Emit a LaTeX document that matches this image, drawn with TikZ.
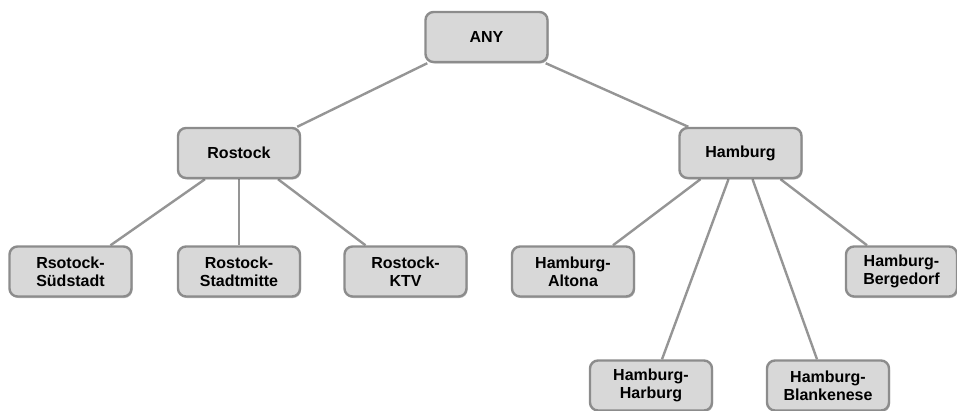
\documentclass[tikz,border=0pt]{standalone}
\usepackage{fontspec}
\setmainfont{Liberation Sans}
\usetikzlibrary{calc,shadows,backgrounds}
\definecolor{boxfill}{HTML}{D8D8D8}
\definecolor{boxline}{HTML}{8C8C8C}
\definecolor{edgeline}{HTML}{959595}
\tikzset{
  place/.style={draw=boxline, fill=boxfill, line width=2.4pt, rounded corners=8pt,
    minimum width=122pt, minimum height=50pt, inner sep=0pt, align=center,
    font=\fontsize{16}{18}\selectfont\bfseries,
    drop shadow={shadow xshift=1pt, shadow yshift=-1.5pt, opacity=0.25, fill=black}},
  link/.style={draw=edgeline, line width=2.4pt}
}
\begin{document}
\begin{tikzpicture}[x=1pt,y=-1pt]
\useasboundingbox (0,0) rectangle (957,410);
% hierarchy of locations
\node[place] (any) at (486.5,37) {ANY};
\node[place] (ros) at (239,153) {Rostock};
\node[place] (ham) at (740.5,153) {Hamburg};
\node[place] (sud) at (70.5,271.5) {Rsotock-\\Südstadt};
\node[place] (stm) at (239,271.5) {Rostock-\\Stadtmitte};
\node[place] (ktv) at (405.5,271.5) {Rostock-\\KTV};
\node[place] (alt) at (573,271.5) {Hamburg-\\Altona};
\node[place, minimum width=111pt] (berg) at (901.5,271.5) {Hamburg-\\Bergedorf};
\node[place] (harb) at (651,385.5) {Hamburg-\\Harburg};
\node[place] (blank) at (828,385.5) {Hamburg-\\Blankenese};
% connectors behind the boxes
\begin{pgfonlayer}{background}
\draw[link] ($(any.south west)+(3,0)$) -- ($(ros.north east)+(-4,0)$);
\draw[link] ($(any.south east)+(-3,0)$) -- ($(ham.north west)+(10,0)$);
\draw[link] ($(ros.south)+(-34,0)$) -- ($(sud.north)+(40,0)$);
\draw[link] (ros.south) -- (stm.north);
\draw[link] ($(ros.south)+(39,0)$) -- ($(ktv.north)+(-40,0)$);
\draw[link] ($(ham.south)+(-40,0)$) -- ($(alt.north)+(40,0)$);
\draw[link] ($(ham.south)+(-12,0)$) -- ($(harb.north)+(11,0)$);
\draw[link] ($(ham.south)+(12,0)$) -- ($(blank.north)+(-11,0)$);
\draw[link] ($(ham.south)+(40,0)$) -- ($(berg.north)+(-34.5,0)$);
\end{pgfonlayer}
\end{tikzpicture}
\end{document}
